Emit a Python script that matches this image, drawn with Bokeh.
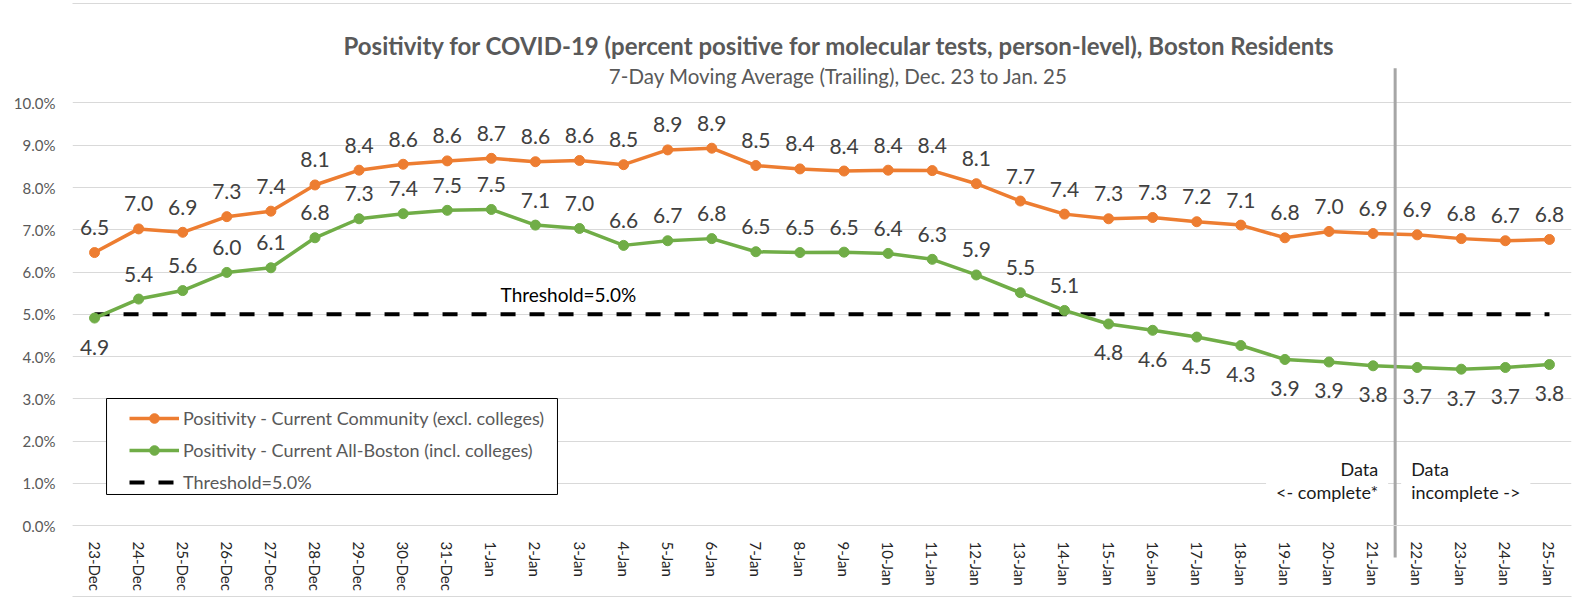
from bokeh.plotting import figure
from bokeh.models import (ColumnDataSource, FixedTicker, PrintfTickFormatter, Label,
                          Legend, LegendItem, Range1d, BoxAnnotation)
from bokeh.core.properties import value
from bokeh.embed import file_html
from bokeh.resources import INLINE

# ---------------- data ----------------
dates = ["23-Dec", "24-Dec", "25-Dec", "26-Dec", "27-Dec", "28-Dec", "29-Dec", "30-Dec",
         "31-Dec", "1-Jan", "2-Jan", "3-Jan", "4-Jan", "5-Jan", "6-Jan", "7-Jan", "8-Jan",
         "9-Jan", "10-Jan", "11-Jan", "12-Jan", "13-Jan", "14-Jan", "15-Jan", "16-Jan",
         "17-Jan", "18-Jan", "19-Jan", "20-Jan", "21-Jan", "22-Jan", "23-Jan", "24-Jan",
         "25-Jan"]
community = [6.46, 7.02, 6.94, 7.31, 7.44, 8.06, 8.41, 8.55, 8.63, 8.69, 8.61, 8.64, 8.54,
             8.89, 8.93, 8.52, 8.44, 8.39, 8.41, 8.40, 8.09, 7.68, 7.37, 7.26, 7.29, 7.19,
             7.11, 6.81, 6.96, 6.91, 6.88, 6.79, 6.74, 6.77]
all_boston = [4.91, 5.36, 5.56, 5.99, 6.10, 6.81, 7.26, 7.38, 7.46, 7.48, 7.11, 7.03, 6.63,
              6.74, 6.79, 6.48, 6.46, 6.47, 6.44, 6.30, 5.93, 5.51, 5.09, 4.77, 4.62, 4.46,
              4.26, 3.93, 3.87, 3.78, 3.74, 3.70, 3.74, 3.81]
threshold = 5.0
y_ticks = [0, 1, 2, 3, 4, 5, 6, 7, 8, 9, 10]
complete_through = "21-Jan"

title_text = "Positivity for COVID-19 (percent positive for molecular tests, person-level), Boston Residents"
subtitle_text = "7-Day Moving Average (Trailing), Dec. 23 to Jan. 25"
name_comm = "Positivity - Current Community (excl. colleges)"
name_all = "Positivity - Current All-Boston (incl. colleges)"
name_thr = "Threshold=5.0%"

# ---------------- styling ----------------
FONT = "Lato"
ORANGE = "#ED7D31"
GREEN = "#70AD47"
GRID = "#D9D9D9"
TEXT = "#595959"
LABEL = "#404040"

n = len(dates)
xs = list(range(n))

p = figure(width=1577, height=600, output_backend="svg", toolbar_location=None,
           x_range=Range1d(-0.5, n - 0.5), y_range=Range1d(-1.775, 12.426),
           min_border=0, min_border_left=72, min_border_right=6)
p.outline_line_color = None
p.background_fill_color = "white"
p.border_fill_color = "white"

# chart-area border
p.add_layout(BoxAnnotation(left=3, right=1573, top=3, bottom=596, left_units="canvas",
                           right_units="canvas", top_units="canvas", bottom_units="canvas",
                           fill_alpha=0, line_color=GRID, line_width=1, line_alpha=1,
                           level="underlay"))

# axes
p.xgrid.visible = False
p.ygrid.ticker = FixedTicker(ticks=y_ticks)
p.ygrid.grid_line_color = GRID
p.ygrid.grid_line_width = 1

p.yaxis.ticker = FixedTicker(ticks=y_ticks)
p.yaxis.formatter = PrintfTickFormatter(format="%.1f%%")
p.yaxis.axis_line_color = None
p.yaxis.major_tick_line_color = None
p.yaxis.minor_tick_line_color = None
p.yaxis.major_label_standoff = 11
p.yaxis.major_label_text_font = FONT
p.yaxis.major_label_text_font_size = "15px"
p.yaxis.major_label_text_color = TEXT

p.xaxis.ticker = FixedTicker(ticks=xs)
p.xaxis.major_label_overrides = {i: d for i, d in enumerate(dates)}
p.xaxis.fixed_location = 0
p.xaxis.axis_line_color = GRID
p.xaxis.major_tick_line_color = None
p.xaxis.minor_tick_line_color = None
p.xaxis.major_label_orientation = "vertical"
p.xaxis.major_label_standoff = 10
p.xaxis.major_label_text_font = FONT
p.xaxis.major_label_text_font_size = "15px"
p.xaxis.major_label_text_color = "#262626"

# threshold line
thr_src = ColumnDataSource(dict(x=[xs[0], xs[-1]], y=[threshold, threshold]))
r_thr = p.line("x", "y", source=thr_src, line_color="black", line_width=4,
               line_dash="15 14")

# series
src = ColumnDataSource(dict(x=xs, comm=community, allb=all_boston))
r_c = p.line("x", "comm", source=src, line_color=ORANGE, line_width=3.5)
r_cs = p.scatter("x", "comm", source=src, size=10, fill_color=ORANGE, line_color=ORANGE)
r_a = p.line("x", "allb", source=src, line_color=GREEN, line_width=3.5)
r_as = p.scatter("x", "allb", source=src, size=10, fill_color=GREEN, line_color=GREEN)

# data labels
lab_c = ColumnDataSource(dict(x=xs, y=community, t=[f"{v:.1f}" for v in community],
                              off=[-25] * n))
lab_a = ColumnDataSource(dict(x=xs, y=all_boston, t=[f"{v:.1f}" for v in all_boston],
                              off=[29 if v < threshold else -25 for v in all_boston]))
for s in (lab_c, lab_a):
    p.text("x", "y", text="t", source=s, y_offset="off", text_align="center",
           text_baseline="middle", text_font=value(FONT), text_font_size="21px",
           text_color=LABEL)

# threshold label
p.add_layout(Label(x=9.21, y=5.467, text=name_thr, text_font=FONT, text_font_size="19px",
                   text_color="black", text_baseline="middle", text_align="left"))

# titles
p.add_layout(Label(x=16.9, y=11.36, text=title_text, text_font=FONT, text_font_size="24px",
                   text_font_style="bold", text_color=TEXT, text_align="center",
                   text_baseline="middle"))
p.add_layout(Label(x=16.88, y=10.64, text=subtitle_text, text_font=FONT,
                   text_font_size="20.5px", text_color=TEXT, text_align="center",
                   text_baseline="middle"))

# completeness divider
div_x = dates.index(complete_through) + 0.5
p.add_layout(Label(x=div_x, y=1.06, x_offset=-7, text="Data\n<- complete*",
                   text_font=FONT, text_font_size="18px", text_color="#1A1A1A",
                   text_align="right", text_baseline="middle", text_line_height=1.05,
                   background_fill_color="white", padding=10))
p.add_layout(Label(x=div_x, y=1.06, x_offset=6, text="Data\nincomplete ->",
                   text_font=FONT, text_font_size="18px", text_color="#1A1A1A",
                   text_align="left", text_baseline="middle", text_line_height=1.05,
                   background_fill_color="white", padding=10))
p.segment(x0=[div_x], y0=[-0.76], x1=[div_x], y1=[10.82], line_color="#A6A6A6",
          line_width=3)

# legend frame
p.add_layout(BoxAnnotation(left=0.272, right=10.50, top=3.006, bottom=0.734,
                           fill_color="white", fill_alpha=1, line_color="black",
                           line_width=1, line_alpha=1))

# legend
legend = Legend(items=[LegendItem(label=name_comm, renderers=[r_c, r_cs]),
                       LegendItem(label=name_all, renderers=[r_a, r_as]),
                       LegendItem(label=name_thr, renderers=[r_thr])],
                location=(57, 106), orientation="vertical")
legend.border_line_color = None
legend.background_fill_alpha = 0
legend.padding = 4
legend.spacing = 8
legend.margin = 0
legend.glyph_width = 50
legend.glyph_height = 24
legend.label_height = 24
legend.label_standoff = 4
legend.label_text_font = FONT
legend.label_text_font_size = "18px"
legend.label_text_color = TEXT
legend.label_text_baseline = "middle"
p.add_layout(legend, "center")

open("out.html", "w").write(file_html(p, INLINE))
